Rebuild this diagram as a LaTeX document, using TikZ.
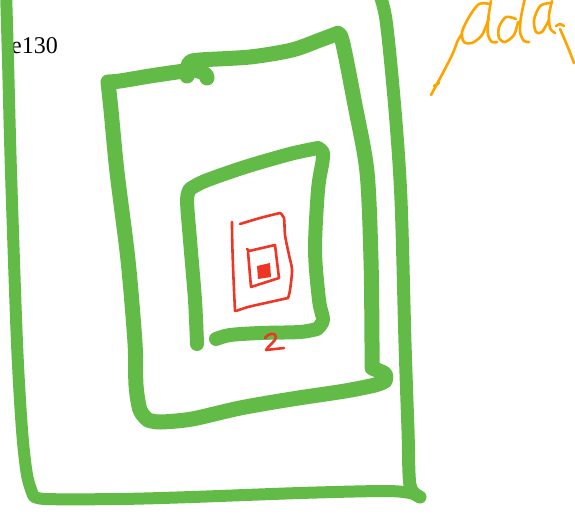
\documentclass[tikz,border=0pt]{standalone}
\usepackage{fontspec}
\setmainfont{Liberation Serif}
\definecolor{pgreen}{RGB}{98,187,70}
\definecolor{pred}{RGB}{238,54,36}
\definecolor{porange}{RGB}{255,163,0}
\begin{document}
\begin{tikzpicture}[x=1pt,y=-1pt,
  gpen/.style={draw=pgreen,line width=#1,line cap=round,line join=round},
  rpen/.style={draw=pred,line width=#1,line cap=round,line join=round},
  open/.style={draw=porange,line width=2.6pt,line cap=round,line join=round}]
\useasboundingbox (0,0) rectangle (575,514);
% label
\node[anchor=base west,inner sep=0pt,font=\fontsize{24}{24}\selectfont] (lbl) at (11,53) {e130};
% outer green
\draw[gpen=12pt] plot[smooth] coordinates {(6,-10) (8,60) (11,172) (17,343) (22,430) (27,475) (33,495)}
  -- plot[smooth] coordinates {(33,495) (45,499) (120,499) (192,497) (300,493) (384,491) (410,493) (420,497)};
\draw[gpen=13pt] plot[smooth] coordinates {(378,-10) (386,20) (395,110) (401,200) (405,343) (408,430) (410,485) (420,497)};
% middle green
\draw[gpen=15pt] plot[smooth] coordinates {(187,76) (189,63) (200,60) (250,57) (292,50) (320,40) (336,34)}
  -- plot[smooth] coordinates {(336,34) (342,40) (355,105) (367,172) (371,260) (372,343) (372,368)}
  -- plot[smooth] coordinates {(372,368) (385,374) (385,381)}
  -- plot[smooth] coordinates {(385,381) (375,385) (345,391) (292,399) (240,408) (192,419) (160,422) (148,420)}
  -- plot[smooth] coordinates {(148,420) (140,410) (136,385) (135,343) (128,260) (117,172) (111,110) (108,82)}
  -- plot[smooth] coordinates {(108,82) (120,81) (150,76) (185,71) (199,71) (206,75) (207,78)};
% inner green
\draw[gpen=14pt] plot[smooth] coordinates {(197,344) (195,300) (190,240) (187,200) (190,189)}
  -- plot[smooth] coordinates {(190,189) (205,181) (245,167) (290,154) (318,148)}
  -- plot[smooth] coordinates {(318,148) (323,153) (322,165)}
  -- plot[smooth] coordinates {(322,165) (318,190) (315,250) (319,300) (323,320) (317,329)}
  -- plot[smooth] coordinates {(317,329) (300,332) (260,333) (230,335) (216,339)};
% red squares
\draw[rpen=2.6pt] (232,222) .. controls (232,250) and (234,290) .. (235,311);
\draw[rpen=2.6pt] plot[smooth] coordinates {(240,224) (260,218) (280,213)}
  -- plot[smooth] coordinates {(280,213) (284,218) (285,235) (289,255) (292,270) (290,290) (288,298)}
  -- plot[smooth] coordinates {(288,298) (270,302) (248,307) (236,311)};
\draw[rpen=2.6pt] (247,249) -- (249,251) -- (275,245) -- (279,278) -- (251,287) -- (248,252);
\fill[pred] (257,266) -- (270,263) -- (271,277) -- (258,279) -- cycle;
\draw[rpen=2.6pt] (265,338) .. controls (268,333) and (276,332) .. (276,337)
  .. controls (276,341) and (268,346) .. (266,350) -- (284,348);
% orange scribble
\draw[open] plot[smooth] coordinates {(431,95) (438,82) (446,67) (453,53) (458,40) (462,34)};
\draw[open] (434,86) -- (439,83);
\draw[open] plot[smooth] coordinates {(490,4) (479,4) (469,17) (462,32) (464,42) (472,43) (482,35) (489,18)};
\draw[open] plot[smooth] coordinates {(491,1) (488,20) (488,35) (492,42) (497,42)};
\draw[open] plot[smooth] coordinates {(516,19) (506,17) (499,27) (499,38) (505,42) (514,35) (518,22)};
\draw[open] plot[smooth] coordinates {(525,-2) (521,17) (520,32) (524,41) (529,42)};
\draw[open] plot[smooth] coordinates {(550,3) (540,6) (534,20) (536,32) (542,32) (549,20)};
\draw[open] plot[smooth] coordinates {(552,1) (549,15) (550,28) (555,33)};
\draw[open] plot[smooth] coordinates {(556,26) (560,24) (564,26)};
\draw[open] plot[smooth] coordinates {(560,29) (564,38) (569,50) (574,63)};
\end{tikzpicture}
\end{document}
